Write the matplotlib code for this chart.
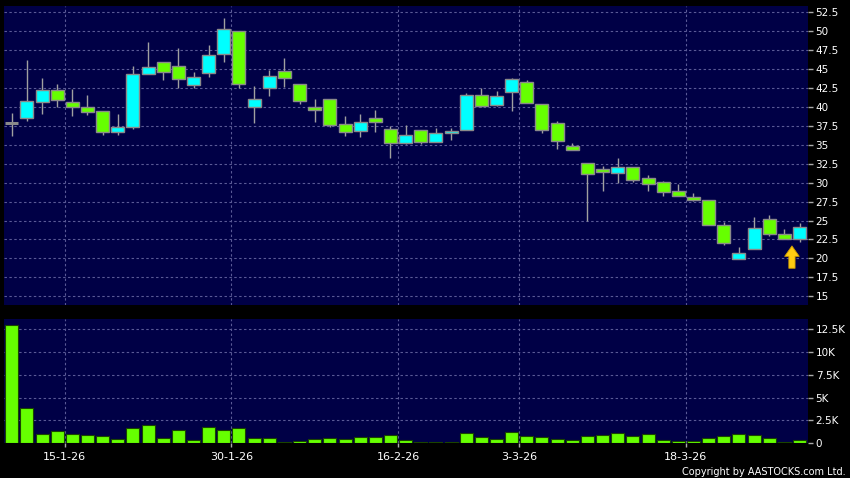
import matplotlib
matplotlib.use('Agg')
import matplotlib.pyplot as plt
from matplotlib.ticker import FixedLocator, FuncFormatter

# ---- data ----
dates = ['9-1-26', '12-1-26', '13-1-26', '14-1-26', '15-1-26', '16-1-26', '19-1-26', '20-1-26',
         '21-1-26', '22-1-26', '23-1-26', '26-1-26', '27-1-26', '28-1-26', '29-1-26', '30-1-26',
         '2-2-26', '3-2-26', '4-2-26', '5-2-26', '6-2-26', '9-2-26', '10-2-26', '11-2-26',
         '12-2-26', '13-2-26', '16-2-26', '20-2-26', '23-2-26', '24-2-26', '25-2-26', '26-2-26',
         '27-2-26', '2-3-26', '3-3-26', '4-3-26', '5-3-26', '6-3-26', '9-3-26', '10-3-26',
         '11-3-26', '12-3-26', '13-3-26', '16-3-26', '17-3-26', '18-3-26', '19-3-26', '20-3-26',
         '23-3-26', '24-3-26', '25-3-26', '26-3-26', '27-3-26']

opens = [37.9, 38.5, 40.7, 42.2, 40.6, 40.0, 39.5, 36.65, 37.3, 44.35, 46.0, 45.4, 42.85, 44.45,
         46.95, 50.0, 39.95, 42.55, 44.75, 43.05, 40.0, 41.0, 37.7, 36.8, 38.55, 37.05, 35.2,
         36.95, 35.35, 36.5, 36.9, 41.55, 40.3, 41.95, 43.25, 40.45, 37.85, 34.85, 32.55, 31.75,
         31.3, 32.05, 30.6, 30.05, 28.9, 28.1, 27.7, 24.4, 19.95, 21.2, 25.15, 23.2, 22.55]
closes = [37.9, 40.8, 42.2, 40.9, 40.0, 39.4, 36.65, 37.35, 44.35, 45.25, 44.6, 43.65, 43.9, 46.8,
          50.25, 43.0, 41.05, 44.05, 43.85, 40.75, 39.55, 37.65, 36.65, 37.95, 37.95, 35.2, 36.3,
          35.35, 36.5, 36.8, 41.55, 40.15, 41.4, 43.65, 40.55, 36.9, 35.45, 34.3, 31.1, 31.35,
          32.05, 30.3, 29.85, 28.75, 28.2, 27.75, 24.35, 22.1, 20.7, 24.0, 23.2, 22.6, 24.1]
highs = [39.2, 46.2, 43.8, 43.0, 42.4, 41.6, 39.5, 39.1, 45.4, 48.6, 46.0, 47.8, 44.6, 48.15,
         51.75, 50.0, 42.8, 44.9, 46.45, 43.05, 41.05, 41.0, 38.8, 39.05, 39.6, 37.5, 37.6,
         36.95, 37.25, 37.25, 41.8, 42.45, 42.15, 43.8, 43.55, 40.45, 38.15, 35.2, 32.55, 32.2,
         33.25, 32.05, 31.0, 30.25, 29.85, 28.6, 27.7, 24.85, 21.45, 25.45, 25.75, 23.9, 24.7]
lows = [36.1, 38.2, 39.1, 40.0, 38.85, 38.9, 36.25, 36.35, 37.05, 44.35, 43.5, 42.55, 42.55, 44.0,
        46.0, 42.45, 37.9, 41.5, 42.6, 40.45, 38.05, 37.4, 36.2, 36.0, 36.65, 33.2, 35.05,
        35.05, 35.35, 35.65, 36.9, 39.95, 40.15, 39.5, 40.55, 36.5, 34.5, 34.3, 25.0, 28.95,
        30.0, 30.15, 28.95, 28.3, 28.2, 27.6, 24.35, 21.75, 19.95, 21.2, 23.0, 22.6, 22.15]
volumes = [12900, 3910, 1050, 1300, 1010, 900, 790, 430, 1660, 1990, 580, 1480, 360, 1810, 1480,
           1700, 580, 610, 160, 250, 500, 580, 500, 690, 690, 940, 330, 160, 180, 160, 1160,
           690, 500, 1270, 790, 720, 470, 400, 760, 940, 1120, 760, 1010, 330, 200, 220, 610,
           830, 1010, 940, 620, 160, 400]

tick_dates = ['15-1-26', '30-1-26', '16-2-26', '3-3-26', '18-3-26']
price_ticks = [15, 17.5, 20, 22.5, 25, 27.5, 30, 32.5, 35, 37.5, 40, 42.5, 45, 47.5, 50, 52.5]
volume_ticks = [0, 2500, 5000, 7500, 10000, 12500]
arrow_date = '27-3-26'
arrow_tip, arrow_tail = 21.65, 18.7

# ---- style ----
BG = '#000046'
UP = '#00FFFF'
DOWN = '#66FF00'
EDGE = '#8A8A8A'
WICK = '#A0A0A0'
GRID = '#5A5A96'

plt.rcParams['font.family'] = ['DejaVu Sans']

fig = plt.figure(figsize=(8.5, 4.78), dpi=100, facecolor='black')
W, H = 850.0, 478.0
ax = fig.add_axes([4 / W, 1 - 305 / H, 804 / W, (305 - 5.7) / H], facecolor=BG)
axv = fig.add_axes([4 / W, 1 - 443.3 / H, 804 / W, (443.3 - 319) / H], facecolor=BG, sharex=ax)

x = list(range(len(dates)))
bw = 0.86

# wicks
ax.vlines(x, lows, highs, color=WICK, linewidth=1.0, zorder=2)
# bodies
for i in x:
    o, c = opens[i], closes[i]
    if o == c:
        ax.hlines(o, i - bw / 2, i + bw / 2, color=EDGE, linewidth=2.2, zorder=3)
    else:
        col = UP if c > o else DOWN
        ax.bar(i, abs(c - o), bottom=min(o, c), width=bw, color=col,
               edgecolor=EDGE, linewidth=1.0, zorder=3)

# volume
axv.bar(x, volumes, width=bw, color=DOWN, edgecolor='#1A4400', linewidth=0.8, zorder=3)

# arrow
ai = dates.index(arrow_date) - 0.5
ax.annotate('', xy=(ai, arrow_tip), xytext=(ai, arrow_tail),
            arrowprops=dict(arrowstyle='simple,tail_width=0.45,head_width=1.05,head_length=0.75',
                            fc='#FFCC11', ec='#CC9900', lw=0.6, mutation_scale=10,
                            shrinkA=0, shrinkB=0), zorder=5)

# axes
tick_pos = [dates.index(d) - 0.5 for d in tick_dates]
ax.set_xlim(-0.51, 52.56)
ax.set_ylim(13.85, 53.37)
axv.set_ylim(0, 13590)

for a in (ax, axv):
    for s in a.spines.values():
        s.set_visible(False)
    a.yaxis.tick_right()
    a.xaxis.set_major_locator(FixedLocator(tick_pos))
    a.grid(True, color=GRID, linestyle=(0, (2.2, 2.2)), linewidth=0.8, zorder=0)
    a.set_axisbelow(True)
    a.tick_params(axis='y', colors='#AAAAAA', labelcolor='white', length=3.5, width=1,
                  pad=2, labelsize=7.5, direction='out')

ax.yaxis.set_major_locator(FixedLocator(price_ticks))
ax.yaxis.set_major_formatter(FuncFormatter(lambda v, p: f'{v:g}'))
ax.tick_params(axis='x', length=0, labelbottom=False)

axv.yaxis.set_major_locator(FixedLocator(volume_ticks))
axv.yaxis.set_major_formatter(FuncFormatter(lambda v, p: '0' if v == 0 else f'{v / 1000:g}K'))
axv.set_xticklabels(tick_dates)
axv.tick_params(axis='x', colors='#AAAAAA', labelcolor='white', length=3, width=1, pad=3,
                labelsize=8)

fig.text(846 / W, 1 - 472 / H, 'Copyright by AASTOCKS.com Ltd.', color='white', fontsize=7,
         ha='right', va='center')

fig.savefig('out.png', dpi=100, facecolor='black')
